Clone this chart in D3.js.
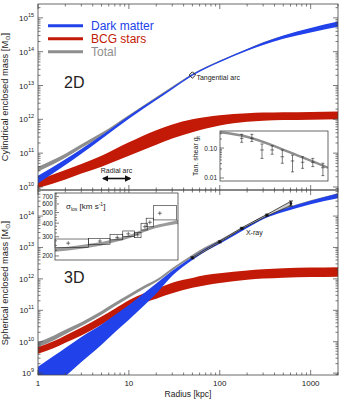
<!DOCTYPE html>
<html>
  <head>
    <meta charset="utf-8">
    <title>Enclosed mass profiles</title>
    <script src="https://d3js.org/d3.v7.min.js"></script>
    <style>
      body { margin: 0; background: #fff; }
      svg { display: block; font-family: "Liberation Sans", Arial, sans-serif; }
      .frame { fill: none; stroke: #444; stroke-width: 0.8px; }
      .tick { stroke: #444; stroke-width: 0.7px; }
      .lbl { fill: #222; }
    </style>
  </head>
  <body>
    <svg id="chart" width="344" height="402"></svg>
    <script>
      // projected (2D) profiles, log10 mass in Msun on a radius grid in kpc
      var r2d = [1, 2, 3, 5, 10, 20, 30, 50, 100, 200, 300, 500, 1000, 2000];
      var dm2dHi = [10.33, 10.82, 11.12, 11.52, 12.10, 12.63, 12.94, 13.33, 13.73, 14.08, 14.27, 14.48, 14.70, 14.89];
      var dm2dLo = [10.10, 10.65, 10.98, 11.42, 12.02, 12.57, 12.89, 13.29, 13.69, 14.03, 14.20, 14.38, 14.57, 14.74];
      var bcg2dHi = [10.20, 10.50, 10.68, 10.92, 11.32, 11.68, 11.85, 12.00, 12.12, 12.18, 12.20, 12.21, 12.22, 12.23];
      var bcg2dLo = [9.97, 10.22, 10.40, 10.60, 10.92, 11.25, 11.43, 11.62, 11.82, 11.93, 11.96, 11.98, 11.99, 12.00];
      var tot2dHi = [10.60, 10.98, 11.26, 11.60, 12.13, 12.66, 12.97, 13.35, 13.74, 14.08, 14.28, 14.47, 14.68, 14.85];
      var tot2dLo = [10.46, 10.86, 11.15, 11.50, 12.05, 12.60, 12.92, 13.31, 13.70, 14.04, 14.23, 14.42, 14.63, 14.80];

      // spherical (3D) profiles
      var r3d = [1, 1.5, 2, 3, 5, 7, 10, 15, 20, 30, 50, 70, 100, 200, 300, 500, 1000, 2000];
      var dm3dHi = [9.20, 9.55, 9.80, 10.15, 10.55, 10.85, 11.17, 11.57, 11.85, 12.26, 12.70, 12.97, 13.21, 13.70, 13.98, 14.22, 14.49, 14.72];
      var dm3dLo = [8.20, 8.60, 8.90, 9.35, 9.90, 10.30, 10.70, 11.18, 11.53, 12.10, 12.60, 12.88, 13.12, 13.62, 13.90, 14.13, 14.38, 14.57];
      var bcg3dHi = [9.82, 10.02, 10.20, 10.45, 10.80, 11.05, 11.32, 11.55, 11.68, 11.88, 12.03, 12.12, 12.18, 12.27, 12.31, 12.34, 12.36, 12.37];
      var bcg3dLo = [9.62, 9.80, 9.97, 10.20, 10.55, 10.80, 11.05, 11.25, 11.37, 11.54, 11.72, 11.80, 11.87, 11.97, 12.01, 12.04, 12.06, 12.07];
      var tot3dHi = [9.98, 10.20, 10.38, 10.62, 10.98, 11.24, 11.50, 11.80, 11.98, 12.35, 12.77, 13.02, 13.25, 13.72, 14.00, 14.24, 14.50, 14.73];
      var tot3dLo = [9.82, 10.05, 10.24, 10.50, 10.86, 11.13, 11.40, 11.70, 11.90, 12.27, 12.70, 12.95, 13.18, 13.66, 13.94, 14.18, 14.45, 14.68];

      // x-ray hydrostatic masses
      var xrayR = [50, 100, 175, 330, 607];
      var xrayM = [12.67, 13.18, 13.61, 14.03, 14.40];
      var xrayErr = [0.03, 0.03, 0.03, 0.03, 0.08];
      var xrayHi = [12.69, 13.20, 13.63, 14.05, 14.47];
      var xrayLo = [12.65, 13.16, 13.59, 14.00, 14.34];

      // strong lensing constraints
      var tangArc = { r: 50, m: 13.31 };
      var radialArc = { r0: 5.2, r1: 10.3, m: 10.25 };

      // weak lensing tangential shear
      var shearR = [210, 297, 420, 594, 840, 1190, 1680, 2380, 3360];
      var shearG = [0.21, 0.21, 0.086, 0.086, 0.051, 0.037, 0.0334, 0.0334, 0.022];
      var shearHi = [0.286, 0.286, 0.136, 0.119, 0.086, 0.058, 0.051, 0.045, 0.031];
      var shearLo = [0.155, 0.164, 0.045, 0.062, 0.031, 0.016, 0.021, 0.024, 0.012];
      var shearModelR = [100, 249, 774, 1374, 2420, 4000];
      var shearModelG = [0.334, 0.238, 0.098, 0.058, 0.035, 0.022];

      // BCG velocity dispersion bins
      var sigR = [2.15, 4.8, 7.45, 9.85, 12.5, 15.0, 17.0, 21.9];
      var sigR0 = [1.54, 3.6, 6.2, 8.56, 11.5, 13.6, 15.5, 18.6];
      var sigR1 = [3.59, 6.2, 8.56, 11.5, 13.6, 16.0, 18.6, 33.6];
      var sigV = [262, 274, 296, 319, 312, 371, 407, 493];
      var sigHi = [286, 290, 316, 339, 330, 399, 444, 578];
      var sigLo = [240, 256, 281, 301, 294, 346, 370, 428];
      var sigModelR = [1.54, 3, 5, 7.45, 10, 15, 20, 30, 36];
      var sigModelHi = [236, 252, 268, 290, 310, 356, 385, 415, 430];
      var sigModelLo = [218, 233, 249, 271, 290, 334, 360, 386, 394];

      var blue = "#2142ea", red = "#c21a06", grey = "#8e8e8e";

      var svg = d3.select("#chart");
      var x = d3.scaleLog().domain([1, 2000]).range([38, 338]);
      var yTop = d3.scaleLinear().domain([9.91, 15.41]).range([190, 4]);
      var yBot = d3.scaleLinear().domain([8.94, 14.83]).range([375, 190]);

      var defs = svg.append("defs");
      [["clipTop", yTop], ["clipBot", yBot]].forEach(function(c) {
        defs.append("clipPath").attr("id", c[0]).append("rect")
          .attr("x", x.range()[0]).attr("y", c[1].range()[1])
          .attr("width", x.range()[1] - x.range()[0])
          .attr("height", c[1].range()[0] - c[1].range()[1]);
      });

      function band(g, radii, lo, hi, color, y) {
        var area = d3.area()
          .x(function(d) { return x(d); })
          .y0(function(d, i) { return y(lo[i]); })
          .y1(function(d, i) { return y(hi[i]); })
          .curve(d3.curveMonotoneX);
        g.append("path").datum(radii).attr("d", area).attr("fill", color);
      }

      // log ticks: decades plus 2..9 in between
      function logTicks(lo, hi) {
        var out = [];
        for (var n = Math.floor(lo); n <= Math.ceil(hi); n++) {
          for (var k = 1; k < 10; k++) {
            var v = n + Math.log10(k);
            if (v >= lo && v <= hi) out.push({ v: v, major: k == 1, n: n });
          }
        }
        return out;
      }

      function frame(y, showX) {
        var g = svg.append("g");
        var x0 = x.range()[0], x1 = x.range()[1];
        var yb = y.range()[0], yt = y.range()[1];
        g.append("rect").attr("class", "frame")
          .attr("x", x0).attr("y", yt).attr("width", x1 - x0).attr("height", yb - yt);
        var xt = logTicks(0, Math.log10(2000));
        xt.forEach(function(t) {
          var px = x(Math.pow(10, t.v)), len = t.major ? 5 : 2.5;
          g.append("line").attr("class", "tick").attr("x1", px).attr("x2", px).attr("y1", yb).attr("y2", yb - len);
          g.append("line").attr("class", "tick").attr("x1", px).attr("x2", px).attr("y1", yt).attr("y2", yt + len);
          if (showX && t.major) {
            g.append("text").attr("class", "lbl").attr("x", px).attr("y", yb + 10.5)
              .attr("text-anchor", "middle").style("font-size", "8px").text(Math.round(Math.pow(10, t.v)));
          }
        });
        logTicks(y.domain()[0], y.domain()[1]).forEach(function(t) {
          var py = y(t.v), len = t.major ? 5 : 2.5;
          g.append("line").attr("class", "tick").attr("x1", x0).attr("x2", x0 + len).attr("y1", py).attr("y2", py);
          g.append("line").attr("class", "tick").attr("x1", x1).attr("x2", x1 - len).attr("y1", py).attr("y2", py);
          if (t.major) {
            var tx = g.append("text").attr("class", "lbl").attr("x", x0 - 4).attr("y", py + 3)
              .attr("text-anchor", "end").style("font-size", "8px");
            tx.append("tspan").text("10");
            tx.append("tspan").attr("dy", -4).style("font-size", "5.5px").text(t.n);
          }
        });
        return g;
      }

      function yTitle(cx, cy, label) {
        var t = svg.append("text").attr("class", "lbl")
          .attr("transform", "translate(" + cx + "," + cy + ") rotate(-90)")
          .attr("text-anchor", "middle").style("font-size", "9.3px");
        t.append("tspan").text(label + " [M");
        t.append("tspan").attr("dy", 2).style("font-size", "6.5px").style("font-family", "DejaVu Sans").text("⊙");
        t.append("tspan").attr("dy", -2).text("]");
      }

      // top panel: cylindrical mass
      var topG = svg.append("g").attr("clip-path", "url(#clipTop)");
      band(topG, r2d, tot2dLo, tot2dHi, grey, yTop);
      band(topG, r2d, bcg2dLo, bcg2dHi, red, yTop);
      band(topG, r2d, dm2dLo, dm2dHi, blue, yTop);

      // bottom panel: spherical mass
      var botG = svg.append("g").attr("clip-path", "url(#clipBot)");
      band(botG, r3d, tot3dLo, tot3dHi, grey, yBot);
      band(botG, r3d, bcg3dLo, bcg3dHi, red, yBot);
      band(botG, r3d, dm3dLo, dm3dHi, blue, yBot);

      // x-ray profile on top of the dark matter band
      var xrayArea = d3.area()
        .x(function(d) { return x(d); })
        .y0(function(d, i) { return yBot(xrayLo[i]); })
        .y1(function(d, i) { return yBot(xrayHi[i]); });
      botG.append("path").datum(xrayR).attr("d", xrayArea)
        .attr("fill", "#cfcfcf").attr("stroke", "#111").attr("stroke-width", 0.7);
      xrayR.forEach(function(r, i) {
        var px = x(r);
        botG.append("line").attr("x1", px).attr("x2", px)
          .attr("y1", yBot(xrayM[i] - xrayErr[i])).attr("y2", yBot(xrayM[i] + xrayErr[i]))
          .attr("stroke", "#111").attr("stroke-width", 0.8);
        [xrayM[i] - xrayErr[i], xrayM[i] + xrayErr[i]].forEach(function(v) {
          botG.append("line").attr("x1", px - 2).attr("x2", px + 2).attr("y1", yBot(v)).attr("y2", yBot(v))
            .attr("stroke", "#111").attr("stroke-width", 0.8);
        });
        botG.append("circle").attr("cx", px).attr("cy", yBot(xrayM[i])).attr("r", 1.3).attr("fill", "#111");
      });
      svg.append("text").attr("class", "lbl").attr("x", x(240)).attr("y", 235)
        .attr("text-anchor", "middle").style("font-size", "7px").text("X-ray");

      frame(yTop, false);
      frame(yBot, true);

      // tangential arc marker
      var ta = [x(tangArc.r), yTop(tangArc.m)];
      svg.append("path")
        .attr("d", "M" + ta[0] + "," + (ta[1] - 3.2) + "L" + (ta[0] + 3.2) + "," + ta[1] +
                   "L" + ta[0] + "," + (ta[1] + 3.2) + "L" + (ta[0] - 3.2) + "," + ta[1] + "Z")
        .attr("fill", "none").attr("stroke", "#111").attr("stroke-width", 0.9);
      svg.append("text").attr("class", "lbl").attr("x", ta[0] + 4).attr("y", ta[1] + 4.5)
        .style("font-size", "7px").text("Tangential arc");

      // radial arc range
      var ra0 = x(radialArc.r0), ra1 = x(radialArc.r1), ray = yTop(radialArc.m);
      defs.append("marker").attr("id", "head").attr("viewBox", "0 0 10 10")
        .attr("refX", 8).attr("refY", 5).attr("markerWidth", 4).attr("markerHeight", 4)
        .attr("orient", "auto-start-reverse")
        .append("path").attr("d", "M0,0L10,5L0,10Z").attr("fill", "#111");
      svg.append("line").attr("x1", ra0).attr("x2", ra1).attr("y1", ray).attr("y2", ray)
        .attr("stroke", "#111").attr("stroke-width", 1.6)
        .attr("marker-start", "url(#head)").attr("marker-end", "url(#head)");
      svg.append("text").attr("class", "lbl").attr("x", (ra0 + ra1) / 2).attr("y", ray - 6)
        .attr("text-anchor", "middle").style("font-size", "7px").text("Radial arc");

      // legend
      var legend = [["Dark matter", blue], ["BCG stars", red], ["Total", grey]];
      legend.forEach(function(d, i) {
        var ly = 25.7 + i * 13;
        svg.append("line").attr("x1", 48).attr("x2", 83).attr("y1", ly).attr("y2", ly)
          .attr("stroke", d[1]).attr("stroke-width", 3);
        svg.append("text").attr("x", 91).attr("y", ly + 4.3).attr("fill", d[1])
          .style("font-size", "12px").text(d[0]);
      });

      svg.append("text").attr("class", "lbl").attr("x", 64).attr("y", 88).style("font-size", "16px").text("2D");
      svg.append("text").attr("class", "lbl").attr("x", 64).attr("y", 283).style("font-size", "16px").text("3D");

      yTitle(8, 97, "Cylindrical enclosed mass");
      yTitle(8, 283, "Spherical enclosed mass");
      svg.append("text").attr("class", "lbl").attr("x", 188).attr("y", 397)
        .attr("text-anchor", "middle").style("font-size", "8.5px").text("Radius [kpc]");

      // shear inset
      var sx = d3.scaleLog().domain([100, 4000]).range([220, 328]);
      var sy = d3.scaleLog().domain([0.00794, 0.369]).range([181, 131]);
      var shear = svg.append("g");
      defs.append("clipPath").attr("id", "clipShear").append("rect")
        .attr("x", 220).attr("y", 131).attr("width", 108).attr("height", 50);
      shear.append("rect").attr("x", 220).attr("y", 131).attr("width", 108).attr("height", 50).attr("fill", "#fff");
      shear.append("path").datum(shearModelR)
        .attr("d", d3.line().x(function(d) { return sx(d); }).y(function(d, i) { return sy(shearModelG[i]); }).curve(d3.curveMonotoneX))
        .attr("fill", "none").attr("stroke", grey).attr("stroke-width", 2.4).attr("clip-path", "url(#clipShear)");
      shearR.forEach(function(r, i) {
        var px = sx(r), py = sy(shearG[i]);
        shear.append("line").attr("x1", px).attr("x2", px).attr("y1", sy(shearLo[i])).attr("y2", sy(shearHi[i]))
          .attr("stroke", "#222").attr("stroke-width", 0.6);
        [shearLo[i], shearHi[i]].forEach(function(v) {
          shear.append("line").attr("x1", px - 1.5).attr("x2", px + 1.5).attr("y1", sy(v)).attr("y2", sy(v))
            .attr("stroke", "#222").attr("stroke-width", 0.6);
        });
        shear.append("line").attr("x1", px - 1.8).attr("x2", px + 1.8).attr("y1", py).attr("y2", py)
          .attr("stroke", "#222").attr("stroke-width", 0.6);
      });
      shear.append("rect").attr("class", "frame").attr("x", 220).attr("y", 131).attr("width", 108).attr("height", 50);
      [0.01, 0.02, 0.03, 0.04, 0.05, 0.06, 0.07, 0.08, 0.09, 0.1, 0.2, 0.3].forEach(function(v) {
        var major = v == 0.01 || v == 0.1;
        shear.append("line").attr("class", "tick").attr("x1", 220).attr("x2", 220 + (major ? 4 : 2))
          .attr("y1", sy(v)).attr("y2", sy(v));
        if (major) {
          shear.append("text").attr("class", "lbl").attr("x", 217).attr("y", sy(v) + 2.5)
            .attr("text-anchor", "end").style("font-size", "6.5px").text(v.toFixed(2));
        }
      });
      var st = shear.append("text").attr("class", "lbl")
        .attr("transform", "translate(198,156) rotate(-90)")
        .attr("text-anchor", "middle").style("font-size", "7px");
      st.append("tspan").text("Tan. shear g");
      st.append("tspan").attr("dy", 1.5).style("font-size", "5px").text("t");

      // velocity dispersion inset
      var vy = d3.scaleLog().domain([183.6, 756]).range([260, 193]);
      var vx0 = 55, vx1 = 178;
      var vel = svg.append("g");
      defs.append("clipPath").attr("id", "clipVel").append("rect")
        .attr("x", vx0).attr("y", 193).attr("width", vx1 - vx0).attr("height", 67);
      vel.append("rect").attr("x", vx0).attr("y", 193).attr("width", vx1 - vx0).attr("height", 67).attr("fill", "#fff");
      var velArea = d3.area()
        .x(function(d) { return x(d); })
        .y0(function(d, i) { return vy(sigModelLo[i]); })
        .y1(function(d, i) { return vy(sigModelHi[i]); })
        .curve(d3.curveMonotoneX);
      vel.append("path").datum(sigModelR).attr("d", velArea).attr("fill", "#9a9a9a").attr("clip-path", "url(#clipVel)");
      sigR.forEach(function(r, i) {
        vel.append("rect").attr("x", x(sigR0[i])).attr("y", vy(sigHi[i]))
          .attr("width", x(sigR1[i]) - x(sigR0[i])).attr("height", vy(sigLo[i]) - vy(sigHi[i]))
          .attr("fill", "none").attr("stroke", "#222").attr("stroke-width", 0.6);
        var px = x(r), py = vy(sigV[i]);
        vel.append("line").attr("x1", px - 2).attr("x2", px + 2).attr("y1", py).attr("y2", py).attr("stroke", "#222").attr("stroke-width", 0.6);
        vel.append("line").attr("x1", px).attr("x2", px).attr("y1", py - 2).attr("y2", py + 2).attr("stroke", "#222").attr("stroke-width", 0.6);
      });
      vel.append("rect").attr("class", "frame").attr("x", vx0).attr("y", 193).attr("width", vx1 - vx0).attr("height", 67);
      d3.range(200, 751, 25).forEach(function(v) {
        var major = v % 100 == 0;
        vel.append("line").attr("class", "tick").attr("x1", vx0).attr("x2", vx0 + (major ? 4 : 2))
          .attr("y1", vy(v)).attr("y2", vy(v));
        if (major) {
          vel.append("text").attr("class", "lbl").attr("x", vx0 - 2).attr("y", vy(v) + 2.5)
            .attr("text-anchor", "end").style("font-size", "6.5px").text(v);
        }
      });
      var vt = vel.append("text").attr("class", "lbl").attr("x", 66).attr("y", 209).style("font-size", "8px");
      vt.append("tspan").text("σ");
      vt.append("tspan").attr("dy", 2).style("font-size", "5px").text("los");
      vt.append("tspan").attr("dy", -2).text(" [km s");
      vt.append("tspan").attr("dy", -3).style("font-size", "5px").text("-1");
      vt.append("tspan").attr("dy", 3).text("]");
    </script>
  </body>
</html>
